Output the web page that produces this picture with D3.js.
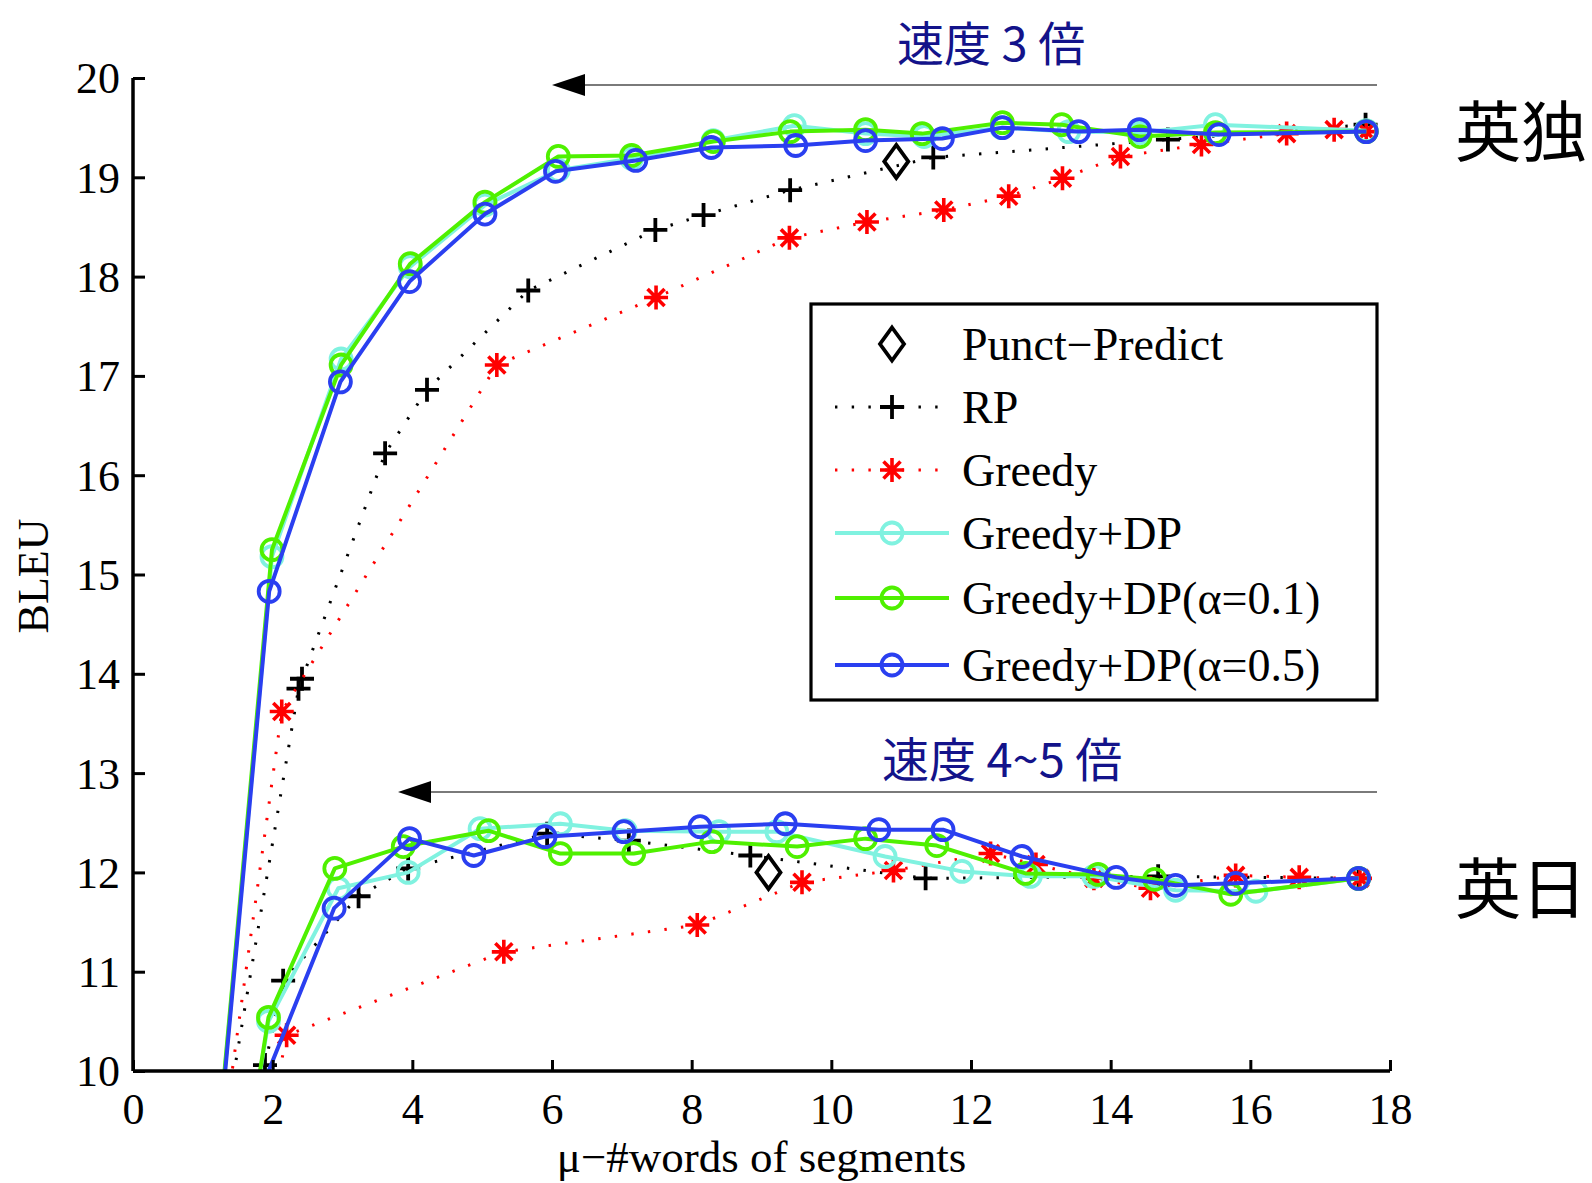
<!DOCTYPE html>
<html>
<head>
<meta charset="utf-8">
<script src="https://cdn.jsdelivr.net/npm/d3@7"></script>
<style>
  html, body { margin: 0; padding: 0; background: #fff; }
  svg { display: block; }
</style>
</head>
<body>
<svg id="chart" width="1592" height="1183"></svg>
<script>
// ---------------- DATA ----------------
const xTicks = [0, 2, 4, 6, 8, 10, 12, 14, 16, 18];
const yTicks = [10, 11, 12, 13, 14, 15, 16, 17, 18, 19, 20];
const xLabel = "μ−#words of segments";
const yLabel = "BLEU";
const legendNames = ["Punct−Predict", "RP", "Greedy", "Greedy+DP", "Greedy+DP(α=0.1)", "Greedy+DP(α=0.5)"];
const arrowLabels = ["速度 3 倍", "速度 4~5 倍"];
const groupLabels = ["英独", "英日"];

// Punct-Predict (single points, En-De and En-Ja)
const punctX = [10.93, 9.10];
const punctY = [19.16, 12.00];

// RP
const rpDeX = [1.0, 2.37, 2.42, 3.61, 4.21, 5.66, 7.48, 8.17, 9.41, 11.46, 14.82, 17.65];
const rpDeY = [8.12, 13.85, 13.95, 16.22, 16.86, 17.86, 18.47, 18.62, 18.87, 19.20, 19.38, 19.53];
const rpJaX = [1.89, 2.15, 3.23, 3.94, 5.93, 7.10, 8.84, 11.35, 14.68, 17.55];
const rpJaY = [10.06, 10.91, 11.76, 12.04, 12.39, 12.32, 12.17, 11.94, 11.96, 11.94];

// Greedy
const greedyDeX = [1.0, 2.13, 5.21, 7.49, 9.40, 10.51, 11.61, 12.54, 13.31, 14.14, 15.30, 16.52, 17.20, 17.66];
const greedyDeY = [7.86, 13.62, 17.11, 17.79, 18.39, 18.55, 18.67, 18.81, 18.99, 19.21, 19.33, 19.44, 19.48, 19.46];
const greedyJaX = [2.0, 2.20, 5.31, 8.08, 9.58, 10.89, 12.28, 12.93, 13.76, 14.57, 15.79, 16.70, 17.57];
const greedyJaY = [9.64, 10.36, 11.20, 11.47, 11.90, 12.02, 12.19, 12.08, 11.94, 11.84, 11.97, 11.95, 11.94];

// Greedy+DP
const dpDeX = [1.0, 1.99, 2.98, 3.97, 5.04, 6.09, 7.14, 8.31, 9.47, 10.49, 11.33, 12.44, 13.40, 14.42, 15.50, 17.66];
const dpDeY = [7.6, 15.18, 17.17, 18.10, 18.72, 19.07, 19.19, 19.37, 19.52, 19.44, 19.41, 19.50, 19.46, 19.45, 19.53, 19.47];
const dpJaX = [1.75, 1.94, 2.94, 3.94, 4.97, 6.12, 7.05, 8.39, 9.22, 10.77, 11.87, 12.85, 13.76, 14.93, 16.08, 17.55];
const dpJaY = [9.69, 10.50, 11.84, 12.00, 12.44, 12.49, 12.42, 12.41, 12.41, 12.16, 12.01, 11.96, 11.96, 11.82, 11.81, 11.94];

// Greedy+DP(alpha=0.1)
const a01DeX = [1.0, 1.99, 2.98, 3.97, 5.04, 6.09, 7.14, 8.31, 9.41, 10.49, 11.30, 12.45, 13.30, 14.42, 15.50, 17.66];
const a01DeY = [7.6, 15.25, 17.11, 18.13, 18.75, 19.21, 19.22, 19.36, 19.46, 19.48, 19.44, 19.55, 19.53, 19.41, 19.45, 19.46];
const a01JaX = [1.75, 1.94, 2.89, 3.87, 5.09, 6.12, 7.17, 8.29, 9.51, 10.49, 11.51, 12.78, 13.82, 14.63, 15.72, 17.55];
const a01JaY = [9.69, 10.54, 12.04, 12.26, 12.42, 12.19, 12.19, 12.31, 12.26, 12.34, 12.27, 11.99, 11.98, 11.93, 11.78, 11.94];

// Greedy+DP(alpha=0.5)
const a05DeX = [1.0, 1.95, 2.97, 3.96, 5.04, 6.05, 7.20, 8.28, 9.49, 10.49, 11.59, 12.45, 13.54, 14.41, 15.55, 17.66];
const a05DeY = [7.54, 14.83, 16.94, 17.95, 18.63, 19.06, 19.17, 19.30, 19.32, 19.37, 19.39, 19.50, 19.46, 19.48, 19.43, 19.46];
const a05JaX = [1.85, 2.88, 3.96, 4.88, 5.90, 7.03, 8.12, 9.34, 10.68, 11.60, 12.73, 14.08, 14.93, 15.79, 17.55];
const a05JaY = [9.84, 11.64, 12.34, 12.17, 12.36, 12.41, 12.46, 12.49, 12.43, 12.43, 12.16, 11.95, 11.87, 11.89, 11.94];

// ---------------- STYLE / LAYOUT ----------------
const COLORS = {punct: "#000000", rp: "#000000", greedy: "#ff0000", dp: "#80f2e0", a01: "#4ff000", a05: "#2a3ff0"};
const W = 1592, H = 1183;
const plot = {left: 133, right: 1390, top: 78, bottom: 1071};
const serif = "'Liberation Serif', 'Times New Roman', serif";
const cjk = "'Noto Sans CJK JP', 'Noto Sans CJK SC', sans-serif";
const LINE_W = 4, DOT_W = 3, DOT_DASH = "2.4,14.3";

const svg = d3.select("#chart");
svg.append("rect").attr("width", W).attr("height", H).attr("fill", "#fff");

const x = d3.scaleLinear().domain([0, 18]).range([plot.left, plot.right]);
const y = d3.scaleLinear().domain([10, 20]).range([plot.bottom, plot.top]);

svg.append("defs").append("clipPath").attr("id", "clip")
  .append("rect").attr("x", plot.left).attr("y", plot.top)
  .attr("width", plot.right - plot.left).attr("height", plot.bottom - plot.top);

const dataG = svg.append("g").attr("clip-path", "url(#clip)");

const zip = (xs, ys) => xs.map((v, i) => [v, ys[i]]);
const line = d3.line().x(d => x(d[0])).y(d => y(d[1]));

// marker drawers
function drawMarker(g, type, cx, cy, color) {
  const sw = 3.8;
  if (type === "circle") {
    g.append("circle").attr("cx", cx).attr("cy", cy).attr("r", 10.5)
      .attr("fill", "none").attr("stroke", color).attr("stroke-width", sw);
  } else if (type === "plus") {
    const s = 12;
    g.append("path").attr("d", `M${cx - s},${cy}H${cx + s}M${cx},${cy - s}V${cy + s}`)
      .attr("stroke", color).attr("stroke-width", sw).attr("fill", "none");
  } else if (type === "star") {
    const s = 12, d = 8.5;
    g.append("path").attr("d",
      `M${cx - s},${cy}H${cx + s}M${cx},${cy - s}V${cy + s}` +
      `M${cx - d},${cy - d}L${cx + d},${cy + d}M${cx - d},${cy + d}L${cx + d},${cy - d}`)
      .attr("stroke", color).attr("stroke-width", 3.6).attr("fill", "none");
  } else if (type === "diamond") {
    const w = 12, h = 16.5;
    g.append("path").attr("d", `M${cx},${cy - h}L${cx + w},${cy}L${cx},${cy + h}L${cx - w},${cy}Z`)
      .attr("stroke", color).attr("stroke-width", sw).attr("fill", "none");
  }
}

function styleLine(p, style) {
  if (style === "dotted") p.attr("stroke-width", DOT_W).attr("stroke-dasharray", DOT_DASH);
  else p.attr("stroke-width", LINE_W);
}

function drawSeries(xs, ys, color, marker, style) {
  const pts = zip(xs, ys);
  const g = dataG.append("g");
  if (style !== "none") {
    const p = g.append("path").attr("d", line(pts)).attr("fill", "none")
      .attr("stroke", color).attr("stroke-linejoin", "round");
    styleLine(p, style);
  }
  pts.forEach(d => drawMarker(g, marker, x(d[0]), y(d[1]), color));
}

// draw in legend order
drawSeries(punctX, punctY, COLORS.punct, "diamond", "none");
drawSeries(rpDeX, rpDeY, COLORS.rp, "plus", "dotted");
drawSeries(rpJaX, rpJaY, COLORS.rp, "plus", "dotted");
drawSeries(greedyDeX, greedyDeY, COLORS.greedy, "star", "dotted");
drawSeries(greedyJaX, greedyJaY, COLORS.greedy, "star", "dotted");
drawSeries(dpDeX, dpDeY, COLORS.dp, "circle", "solid");
drawSeries(dpJaX, dpJaY, COLORS.dp, "circle", "solid");
drawSeries(a01DeX, a01DeY, COLORS.a01, "circle", "solid");
drawSeries(a01JaX, a01JaY, COLORS.a01, "circle", "solid");
drawSeries(a05DeX, a05DeY, COLORS.a05, "circle", "solid");
drawSeries(a05JaX, a05JaY, COLORS.a05, "circle", "solid");

// ---------------- AXES ----------------
const xAxis = d3.axisBottom(x).tickValues(xTicks).tickSize(-11).tickFormat(d3.format("d")).tickPadding(22);
const yAxis = d3.axisLeft(y).tickValues(yTicks).tickSize(-12).tickFormat(d3.format("d")).tickPadding(13);

const gx = svg.append("g").attr("transform", `translate(0,${plot.bottom})`).call(xAxis);
const gy = svg.append("g").attr("transform", `translate(${plot.left},0)`).call(yAxis);
[gx, gy].forEach(g => {
  g.select(".domain").attr("stroke", "#000").attr("stroke-width", 3.5)
    .attr("d", g === gx ? `M${plot.left},0H${plot.right}` : `M0,${plot.bottom}V${plot.top}`);
  g.selectAll(".tick line").attr("stroke", "#000").attr("stroke-width", 3);
  g.selectAll(".tick text").attr("fill", "#000").attr("font-family", serif).attr("font-size", 44);
});
gx.selectAll(".tick text").attr("dy", "0.71em");
gy.selectAll(".tick text").attr("dy", "0.34em");

svg.append("text").attr("x", (plot.left + plot.right) / 2).attr("y", 1172)
  .attr("text-anchor", "middle").attr("font-family", serif).attr("font-size", 45)
  .attr("fill", "#000").text(xLabel);
svg.append("text").attr("transform", "translate(48,576) rotate(-90)")
  .attr("text-anchor", "middle").attr("font-family", serif).attr("font-size", 44)
  .attr("fill", "#000").text(yLabel);

// ---------------- ANNOTATIONS ----------------
const arrows = [
  {tip: 552, end: 1377, yy: 85, label: arrowLabels[0], lx: 897, ly: 40},
  {tip: 398, end: 1377, yy: 792, label: arrowLabels[1], lx: 882, ly: 756}
];
arrows.forEach(a => {
  svg.append("line").attr("x1", a.tip + 30).attr("x2", a.end).attr("y1", a.yy).attr("y2", a.yy)
    .attr("stroke", "#7a7a7a").attr("stroke-width", 2);
  svg.append("path").attr("d", `M${a.tip},${a.yy}L${a.tip + 33},${a.yy - 11}L${a.tip + 33},${a.yy + 11}Z`)
    .attr("fill", "#000");
  svg.append("text").attr("x", a.lx).attr("y", a.ly).attr("dominant-baseline", "central")
    .attr("font-family", cjk).attr("font-size", 47).attr("fill", "#13138a").text(a.label);
});
[[groupLabels[0], 127], [groupLabels[1], 884]].forEach(([t, cy]) => {
  svg.append("text").attr("x", 1455).attr("y", cy).attr("dominant-baseline", "central")
    .attr("font-family", cjk).attr("font-size", 66).attr("fill", "#000").text(t);
});

// ---------------- LEGEND ----------------
const leg = {x0: 811, y0: 304, x1: 1377, y1: 700};
const legRows = [344, 407, 470, 533, 598, 665];
const legStyles = [
  {c: COLORS.punct, m: "diamond", s: "none"},
  {c: COLORS.rp, m: "plus", s: "dotted"},
  {c: COLORS.greedy, m: "star", s: "dotted"},
  {c: COLORS.dp, m: "circle", s: "solid"},
  {c: COLORS.a01, m: "circle", s: "solid"},
  {c: COLORS.a05, m: "circle", s: "solid"}
];
const lg = svg.append("g");
lg.append("rect").attr("x", leg.x0).attr("y", leg.y0).attr("width", leg.x1 - leg.x0).attr("height", leg.y1 - leg.y0)
  .attr("fill", "#fff").attr("stroke", "#000").attr("stroke-width", 3.2);
legendNames.forEach((name, i) => {
  const st = legStyles[i], yy = legRows[i];
  if (st.s !== "none") {
    const p = lg.append("line").attr("x1", 835).attr("x2", 949).attr("y1", yy).attr("y2", yy).attr("stroke", st.c);
    styleLine(p, st.s);
  }
  drawMarker(lg, st.m, 892, yy, st.c);
  lg.append("text").attr("x", 962).attr("y", yy).attr("dy", "0.34em")
    .attr("font-family", serif).attr("font-size", 46).attr("fill", "#000").text(name);
});
</script>
</body>
</html>
